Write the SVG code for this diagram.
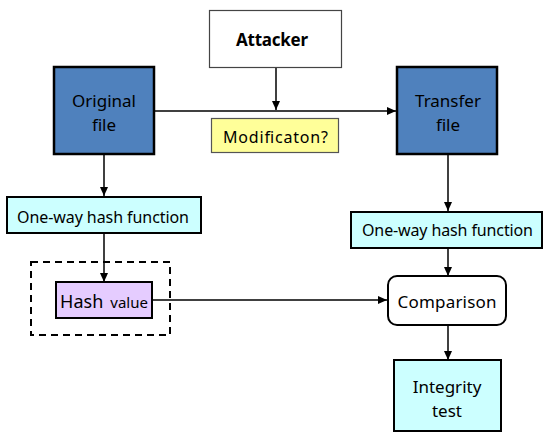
<svg xmlns="http://www.w3.org/2000/svg" width="544" height="433" viewBox="0 0 544 433">
<style>
text{font-family:"Noto Sans","Open Sans","Liberation Sans",sans-serif;fill:#000;text-anchor:middle}
.t18{font-size:17px}
.t16{font-size:16px}
.file{fill:#4F81BD;stroke:#000;stroke-width:2.5}
.hash{fill:#CCFFFF;stroke:#000;stroke-width:2}
.plain{fill:#fff;stroke:#444;stroke-width:1.2}
.conn{stroke:#000;stroke-width:1.5;fill:none}
</style>
<defs>
<marker id="ah" markerUnits="userSpaceOnUse" markerWidth="10" markerHeight="8" refX="9" refY="4" orient="auto">
<path d="M0,0 L9,4 L0,8 Z" fill="#000"/>
</marker>
</defs>
<g id="connectors">
<path class="conn" d="M155,111 H396" marker-end="url(#ah)"/>
<path class="conn" d="M276,67 V110" marker-end="url(#ah)"/>
<path class="conn" d="M104,155 V196" marker-end="url(#ah)"/>
<path class="conn" d="M104,234 V282" marker-end="url(#ah)"/>
<path class="conn" d="M448,155 V211" marker-end="url(#ah)"/>
<path class="conn" d="M448,249 V276" marker-end="url(#ah)"/>
<path class="conn" d="M153,300 H387" marker-end="url(#ah)"/>
<path class="conn" d="M448,326 V360" marker-end="url(#ah)"/>
</g>
<g id="attacker">
<rect class="plain" x="209.5" y="10.5" width="132" height="57"/>
<text x="272" y="46" style="font-size:17px;font-weight:bold" textLength="72">Attacker</text>
</g>
<g id="original-file">
<rect class="file" x="54" y="67" width="100" height="87"/>
<text class="t18" x="104" y="107">Original</text>
<text class="t18" x="104" y="131">file</text>
</g>
<g id="modification">
<rect x="211.5" y="118.5" width="127" height="34" fill="#FFFF99" stroke="#555" stroke-width="1.2"/>
<text class="t16" x="275.5" y="143" textLength="105">Modificaton?</text>
</g>
<g id="transfer-file">
<rect class="file" x="397" y="67" width="100" height="87"/>
<text class="t18" x="448" y="107">Transfer</text>
<text class="t18" x="448" y="131">file</text>
</g>
<g id="hash-left">
<rect class="hash" x="7" y="197" width="194" height="36"/>
<text class="t16" x="103" y="223" textLength="172">One-way hash function</text>
</g>
<g id="hash-right">
<rect class="hash" x="351" y="212" width="191" height="36"/>
<text class="t16" x="447.5" y="236" textLength="171">One-way hash function</text>
</g>
<g id="hash-value">
<rect x="31" y="262" width="139" height="73" fill="none" stroke="#000" stroke-width="2" stroke-dasharray="7,5"/>
<rect x="56" y="282" width="96" height="36" fill="#E5CCFF" stroke="#000" stroke-width="2"/>
<text x="104" y="308" style="text-anchor:middle"><tspan style="font-size:18px">Hash</tspan><tspan style="font-size:15px" dx="7">value</tspan></text>
</g>
<g id="comparison">
<rect x="388" y="276" width="118" height="49" rx="9" fill="#fff" stroke="#000" stroke-width="2"/>
<text class="t18" x="447" y="308" textLength="99">Comparison</text>
</g>
<g id="integrity">
<rect class="hash" x="394" y="360" width="107" height="71"/>
<text class="t18" x="447" y="393">Integrity</text>
<text class="t18" x="447" y="417">test</text>
</g>
</svg>
